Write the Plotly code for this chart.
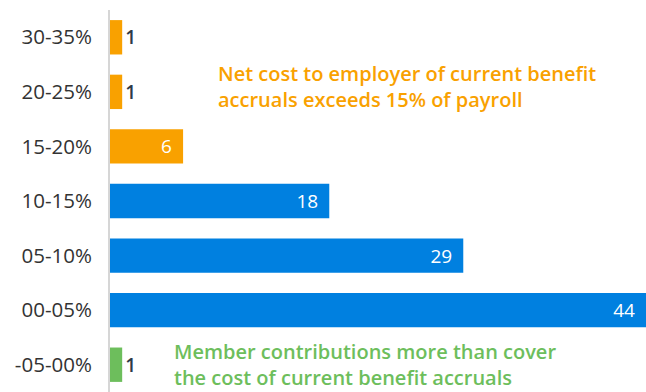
import plotly.graph_objects as go

# Distribution of plans by net employer cost band (share of payroll)
categories = ["30-35%", "20-25%", "15-20%", "10-15%", "05-10%", "00-05%", "-05-00%"]
counts = [1, 1, 6, 18, 29, 44, 1]
groups = ["high", "high", "high", "mid", "mid", "mid", "low"]

palette = {"high": "#F9A100", "mid": "#0080E0", "low": "#6DBE5C"}
bar_colors = [palette[g] for g in groups]

orange_note = "Net cost to employer of current benefit<br>accruals exceeds 15% of payroll"
green_note = "Member contributions more than cover<br>the cost of current benefit accruals"

FONT = "Open Sans"

# small bars get their label outside, larger ones inside at the end
text_pos = ["outside" if v < 3 else "inside" for v in counts]
text_colors = ["#2E3A48" if v < 3 else "#FFFFFF" for v in counts]
labels = [str(v) if v < 3 else f"{v}\u00a0\u2009" for v in counts]

fig = go.Figure(
    go.Bar(
        y=categories,
        x=counts,
        orientation="h",
        marker=dict(color=bar_colors, line=dict(width=0)),
        text=labels,
        textposition=text_pos,
        insidetextanchor="end",
        textfont=dict(family=FONT, size=19, color=text_colors, weight=500),
        outsidetextfont=dict(family=FONT, size=19, color="#2E3A48", weight=600),
        cliponaxis=False,
        hoverinfo="skip",
    )
)

for note, x, y, color in [
    (orange_note, 8.72, 0.801, "#F9A100"),
    (green_note, 5.1, 0.073, "#6DBE5C"),
]:
    fig.add_annotation(
        x=x, y=y, xref="x", yref="paper",
        text=note, showarrow=False,
        xanchor="left", yanchor="middle", align="left",
        font=dict(family=FONT, size=20, color=color, weight=600),
    )

fig.update_layout(
    width=646, height=392,
    margin=dict(l=110, r=0, t=10, b=0),
    plot_bgcolor="white", paper_bgcolor="white",
    bargap=0.37,
    showlegend=False,
)
fig.update_xaxes(
    range=[0, 44], visible=False, showgrid=False, zeroline=False,
)
fig.update_yaxes(
    categoryorder="array", categoryarray=categories, autorange="reversed",
    showline=True, linecolor="#D6D6D6", linewidth=2,
    showgrid=False, zeroline=False, ticks="",
    ticklabelstandoff=12,
    tickfont=dict(family=FONT, size=20.5, color="#333333"),
)

fig.write_html("out.html")
